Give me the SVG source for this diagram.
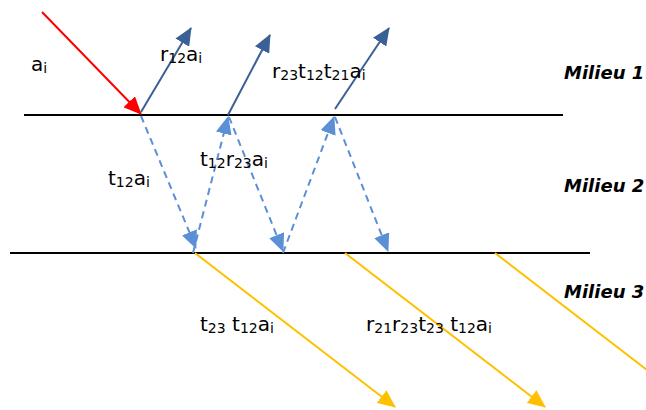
<svg xmlns="http://www.w3.org/2000/svg" width="646" height="410" viewBox="0 0 646 410">
<defs>
<style>
.bg{fill:#ffffff}
.iface{stroke:#000;stroke-width:2;fill:none}
.lbl{font-family:"DejaVu Sans",Verdana,sans-serif;font-size:20px;fill:#000}
.s{font-size:14px}
.mil{font-family:"DejaVu Sans",Verdana,sans-serif;font-size:18px;font-weight:bold;font-style:italic;fill:#000}
.inc{stroke:#ff0000;stroke-width:2;fill:none}
.ref{stroke:#3a6095;stroke-width:2;fill:none}
.dsh{stroke:#5b8fd6;stroke-width:2;fill:none;stroke-dasharray:7 5}
.tra{stroke:#ffc000;stroke-width:2;fill:none}
</style>
<marker id="mRed" markerUnits="userSpaceOnUse" markerWidth="20" markerHeight="16" refX="17" refY="8" orient="auto"><path d="M0,0 L18,8 L0,16 z" fill="#ff0000"/></marker>
<marker id="mRef" markerUnits="userSpaceOnUse" markerWidth="20" markerHeight="16" refX="17" refY="8" orient="auto"><path d="M0,0 L18,8 L0,16 z" fill="#3a6095"/></marker>
<marker id="mDsh" markerUnits="userSpaceOnUse" markerWidth="20" markerHeight="16" refX="17" refY="8" orient="auto"><path d="M0,0 L18,8 L0,16 z" fill="#5b8fd6"/></marker>
<marker id="mTra" markerUnits="userSpaceOnUse" markerWidth="20" markerHeight="16" refX="17" refY="8" orient="auto"><path d="M0,0 L18,8 L0,16 z" fill="#ffc000"/></marker>
</defs>
<rect class="bg" x="0" y="0" width="646" height="410"/>

<g id="interfaces">
<line class="iface" x1="24" y1="115" x2="563" y2="115"/>
<line class="iface" x1="10" y1="253" x2="590" y2="253"/>
</g>

<g id="connectors">
<line class="inc" x1="42" y1="12" x2="141" y2="114" marker-end="url(#mRed)"/>
<line class="ref" x1="141" y1="112" x2="191" y2="28" marker-end="url(#mRef)"/>
<line class="ref" x1="228" y1="115" x2="270" y2="35" marker-end="url(#mRef)"/>
<line class="ref" x1="335" y1="109" x2="389" y2="28" marker-end="url(#mRef)"/>
<line class="dsh" x1="141" y1="116" x2="196" y2="248" marker-end="url(#mDsh)"/>
<line class="dsh" x1="193" y1="253" x2="228" y2="117" marker-end="url(#mDsh)"/>
<line class="dsh" x1="229" y1="117" x2="283" y2="251" marker-end="url(#mDsh)"/>
<line class="dsh" x1="283" y1="253" x2="334" y2="117" marker-end="url(#mDsh)"/>
<line class="dsh" x1="335" y1="117" x2="388" y2="251" marker-end="url(#mDsh)"/>
<line class="tra" x1="195" y1="253" x2="395" y2="407" marker-end="url(#mTra)"/>
<line class="tra" x1="345" y1="253" x2="545" y2="407" marker-end="url(#mTra)"/>
<line class="tra" x1="495" y1="253" x2="660" y2="380"/>
</g>

<g id="labels">
<text class="lbl" x="31" y="71">a<tspan class="s" dy="2">i</tspan></text>
<text class="lbl" x="160" y="61">r<tspan class="s" dy="2">12</tspan><tspan dy="-2">a</tspan><tspan class="s" dy="2">i</tspan></text>
<text class="lbl" x="272" y="78">r<tspan class="s" dy="2">23</tspan><tspan dy="-2">t</tspan><tspan class="s" dy="2">12</tspan><tspan dy="-2">t</tspan><tspan class="s" dy="2">21</tspan><tspan dy="-2">a</tspan><tspan class="s" dy="2">i</tspan></text>
<text class="lbl" x="108" y="185">t<tspan class="s" dy="2">12</tspan><tspan dy="-2">a</tspan><tspan class="s" dy="2">i</tspan></text>
<text class="lbl" x="200" y="166">t<tspan class="s" dy="2">12</tspan><tspan dy="-2">r</tspan><tspan class="s" dy="2">23</tspan><tspan dy="-2">a</tspan><tspan class="s" dy="2">i</tspan></text>
<text class="lbl" x="200" y="331">t<tspan class="s" dy="2">23</tspan><tspan dy="-2"> t</tspan><tspan class="s" dy="2">12</tspan><tspan dy="-2">a</tspan><tspan class="s" dy="2">i</tspan></text>
<text class="lbl" x="366" y="331">r<tspan class="s" dy="2">21</tspan><tspan dy="-2">r</tspan><tspan class="s" dy="2">23</tspan><tspan dy="-2">t</tspan><tspan class="s" dy="2">23</tspan><tspan dy="-2"> t</tspan><tspan class="s" dy="2">12</tspan><tspan dy="-2">a</tspan><tspan class="s" dy="2">i</tspan></text>
</g>

<g id="milieu1"><text class="mil" x="564" y="79">Milieu 1</text></g>
<g id="milieu2"><text class="mil" x="564" y="192">Milieu 2</text></g>
<g id="milieu3"><text class="mil" x="564" y="298">Milieu 3</text></g>
</svg>
